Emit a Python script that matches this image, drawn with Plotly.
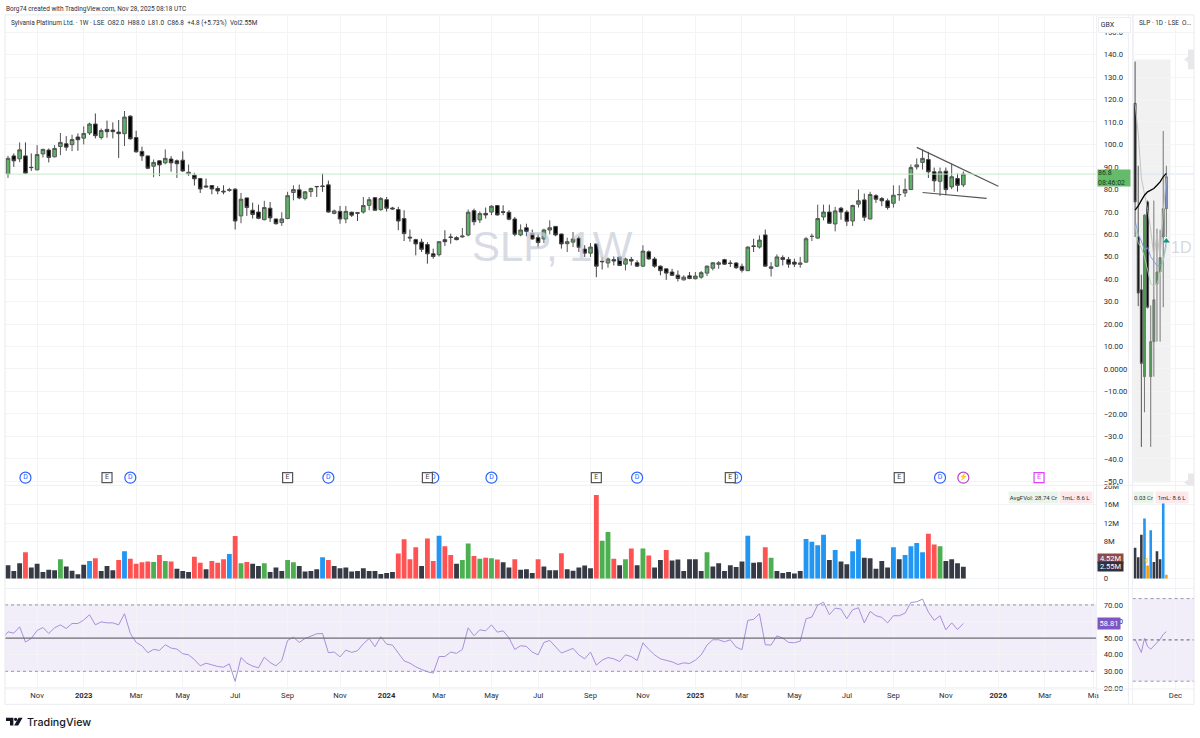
import pandas as pd
import plotly.graph_objects as go

W, H = 1200, 738

# ---------- weekly data ----------
opens = [86.9,94.9,93.6,94.9,89.8,88.7,95.8,97.5,94.5,99.1,
100.3,99.9,103.3,102.8,105.1,109.1,103.1,106.7,106.4,105.5,
104.8,112.6,103.1,96.9,94.9,90.3,92.7,91.8,93.5,92.7,
93.0,86.9,86.3,84.8,81.5,81.7,80.4,79.2,79.5,80.1,
68.2,76.2,70.7,69.9,66.5,71.6,66.8,65.2,67.0,78.6,
79.8,76.0,79.0,81.3,81.5,82.0,69.3,70.2,66.8,69.8,
69.6,69.9,72.9,76.3,71.0,75.4,71.7,71.0,67.0,58.7,
57.6,56.5,55.4,51.3,50.9,57.6,58.8,58.5,58.8,59.7,
70.5,66.4,69.3,69.9,72.8,70.0,69.8,66.8,59.7,62.9,
60.4,58.5,57.9,61.9,63.5,60.1,55.8,56.5,58.2,53.4,
51.6,55.7,48.0,47.2,48.7,49.9,46.7,48.8,47.3,45.8,
52.2,49.0,45.8,44.6,43.2,41.8,39.7,41.5,40.2,40.9,
42.7,44.9,46.6,48.7,47.2,47.2,45.7,43.8,54.8,54.3,
59.7,44.8,45.8,49.6,48.8,47.6,46.6,47.6,59.0,58.3,
67.7,69.9,64.6,71.6,69.9,65.9,73.4,75.3,66.8,77.2,
75.9,74.9,73.8,77.6,78.4,79.9,90.0,92.0,93.3,87.8,
83.6,88.1,81.1,84.8,82.0]
highs = [94.9,96.0,100.9,100.9,96.0,99.7,98.1,98.2,99.7,105.1,
103.7,104.3,104.9,108.0,109.7,113.8,107.1,110.6,109.8,110.9,
114.9,113.0,106.1,99.0,94.9,93.3,93.0,97.8,94.8,93.3,
96.9,91.1,87.4,85.1,84.8,81.7,81.4,81.8,80.7,80.5,
78.4,76.2,74.1,73.2,74.9,74.4,66.9,69.8,78.9,81.8,
82.1,79.3,80.8,81.5,87.1,83.9,71.0,72.6,72.6,70.1,
69.6,76.6,76.6,76.6,76.6,76.6,72.2,72.2,70.7,62.1,
58.0,58.0,56.5,53.6,56.7,61.8,60.3,59.1,62.8,71.0,
71.4,70.2,71.9,72.9,72.9,72.9,70.7,67.7,64.4,64.7,
62.1,60.3,62.5,66.2,63.5,60.3,58.5,61.0,59.1,55.1,
56.1,55.8,49.9,49.6,50.1,50.1,49.6,49.9,48.4,55.1,
52.8,49.9,46.1,44.6,44.6,43.9,41.7,43.2,43.2,43.6,
46.1,47.6,48.0,49.1,48.4,47.6,46.9,54.6,58.0,59.5,
62.1,47.6,51.0,50.6,49.9,49.1,49.9,58.8,60.3,73.2,
73.2,73.2,72.2,72.2,70.7,73.2,79.9,78.1,78.9,77.8,
76.6,75.9,81.8,81.8,84.8,91.1,93.8,97.8,96.7,89.7,
89.7,89.7,91.5,87.1,88.0]
lows = [85.1,90.0,92.1,87.0,88.2,88.5,94.2,92.0,94.2,95.2,
97.2,97.0,97.2,100.0,104.2,102.7,102.2,103.0,102.7,94.0,
99.3,102.2,96.4,92.7,89.0,85.4,85.9,91.2,87.9,85.1,
87.8,86.0,81.7,78.4,80.8,77.8,77.8,77.8,78.9,62.1,
64.9,68.2,67.0,66.7,66.2,65.5,64.3,63.7,66.7,75.1,
75.6,75.1,76.6,76.6,78.9,69.6,68.9,64.7,64.9,67.7,
65.9,69.2,70.7,70.4,70.4,70.1,71.0,61.8,57.0,56.7,
50.6,52.1,46.9,49.1,50.1,54.8,55.8,57.3,58.5,59.1,
64.0,65.0,67.0,68.5,68.3,68.5,66.2,59.1,59.1,59.1,
57.6,53.9,56.1,60.0,59.1,53.6,52.1,54.3,52.1,49.9,
49.9,40.9,44.3,45.1,46.1,45.8,43.9,46.1,45.4,45.4,
48.7,45.1,41.7,39.7,41.4,39.0,39.4,40.0,39.9,40.2,
41.4,43.9,44.6,46.4,45.4,44.6,43.0,43.6,52.1,53.6,
45.7,41.2,45.4,46.1,45.1,45.4,45.1,47.3,57.0,58.0,
66.2,64.7,61.3,66.5,63.7,63.7,71.9,65.9,66.7,74.0,
72.5,71.0,71.9,74.9,76.6,79.8,88.8,88.8,85.1,78.9,
77.1,77.4,80.1,79.0,81.0]
closes = [93.8,92.7,97.6,87.2,89.7,95.5,97.8,94.2,98.2,100.9,
98.8,102.2,102.1,104.9,109.1,103.9,106.2,105.7,105.7,104.8,
112.2,102.5,96.7,94.9,89.4,92.0,90.9,93.8,91.8,91.4,
88.2,87.6,84.7,80.2,81.1,80.2,79.3,78.9,79.9,65.9,
75.6,71.9,68.8,67.1,71.9,67.3,64.7,66.8,77.2,79.9,
76.2,78.9,80.4,81.2,81.3,69.9,70.4,66.8,70.2,68.5,
69.4,72.8,75.4,70.7,75.9,71.6,71.3,65.9,60.3,58.4,
55.7,53.3,51.3,50.1,56.7,56.7,58.6,57.6,59.2,69.8,
65.6,69.2,68.6,72.5,68.6,69.8,66.7,60.0,61.9,61.3,
57.9,56.3,61.9,62.9,59.7,55.7,56.7,57.9,54.2,51.6,
54.3,45.8,47.8,49.0,48.1,46.1,49.0,48.1,45.8,52.5,
49.0,45.8,43.8,42.7,41.7,40.3,40.9,40.3,41.4,42.9,
45.8,47.3,47.3,46.7,47.0,45.1,44.0,54.3,54.6,57.4,
45.8,45.5,49.9,48.8,46.7,46.7,47.2,58.0,59.1,67.0,
69.9,64.9,70.4,69.9,65.8,72.8,74.9,67.6,77.7,75.6,
74.9,71.9,77.4,77.7,79.9,89.7,90.9,93.8,87.8,83.8,
87.8,79.9,85.6,81.8,86.8]
volumes = [2.9,1.6,3.3,5.7,2.4,3.2,1.4,1.9,1.8,4.2,
2.6,1.7,0.9,3.0,3.8,4.4,1.6,2.7,1.8,4.0,
5.9,4.3,3.2,3.5,3.7,3.6,5.1,3.8,3.7,2.1,
1.6,1.4,4.7,3.4,2.0,3.8,3.4,4.2,5.3,9.2,
3.3,3.6,3.2,2.7,3.3,1.4,2.4,1.6,4.0,3.5,
2.7,1.5,1.6,2.0,4.6,4.0,2.7,2.2,2.4,1.5,
1.6,2.2,1.6,1.6,1.0,1.2,1.4,5.4,8.5,4.2,
6.8,2.7,8.7,3.8,9.3,7.0,5.1,3.2,4.0,7.6,
4.9,4.3,4.5,4.4,4.1,3.5,2.4,4.2,1.9,2.0,
1.2,4.2,2.6,1.8,1.8,5.5,2.0,1.7,2.4,2.8,
2.2,18.1,8.2,10.1,4.3,2.9,4.2,6.5,2.9,6.5,
5.0,2.4,4.0,6.2,3.9,4.1,1.6,4.2,4.2,1.6,
5.7,2.6,3.3,1.6,2.9,2.5,3.7,9.3,3.4,3.5,
6.8,4.5,1.6,1.2,1.4,1.1,1.6,8.6,8.0,7.2,
9.5,4.0,6.2,3.7,3.1,5.9,8.5,4.5,4.4,2.1,
3.8,2.4,6.8,4.2,5.1,7.0,7.7,5.7,9.7,7.4,
7.0,3.8,4.2,3.3,2.55]
volume_kind = list("kkkrkkkkkg" "kkkkbrkkkr" "brrrrgrgrk" "kkrrkrrrbr"
                   "grkkgkkkgg" "kkkkbrkkkk" "kkkkkkkrrr" "rkrrbrrkgg"
                   "rgrgrkkrkk" "krkkkrkkkk" "krggrkgrkg" "rkkrkkkkkk"
                   "gkkkkkkbkk" "rgkkkkkbbb" "bkbkkbbkkk" "kkbkbbbbrr"
                   "gkkkk")
rsi_values = [49.5,53.8,53.0,56.8,47.6,49.8,54.6,56.4,52.8,56.2,58.0,
55.8,58.8,58.8,60.9,64.1,58.0,59.8,59.2,59.2,58.0,
64.7,52.8,47.4,45.4,41.2,43.2,42.6,46.0,44.0,43.4,
40.6,39.9,37.1,33.3,34.9,33.9,32.9,32.5,34.5,23.9,
38.3,34.9,33.1,32.1,38.5,35.3,33.3,36.5,48.6,50.6,
47.4,49.8,51.4,52.6,52.8,41.2,41.6,38.7,42.8,41.4,
42.4,46.6,49.8,44.8,50.8,46.4,45.8,41.0,36.3,34.9,
32.7,31.1,29.7,28.9,38.9,38.9,41.6,40.8,43.2,56.2,
51.4,55.0,54.4,58.0,53.6,54.4,50.2,43.2,45.4,45.0,
41.6,39.9,47.4,48.6,45.0,41.0,42.4,43.8,39.9,37.5,
41.6,33.7,36.7,38.3,37.5,35.9,39.9,38.9,36.5,47.2,
43.2,39.9,37.5,36.7,35.7,34.1,35.1,34.7,36.7,39.9,
45.8,49.0,49.0,47.8,49.0,44.6,43.0,60.7,61.3,64.7,
46.0,45.8,51.4,50.0,47.4,47.2,48.2,61.7,62.7,69.9,
71.7,64.1,68.1,67.5,61.7,67.1,68.3,59.2,66.1,63.5,
62.5,59.2,63.5,63.5,65.1,71.5,71.9,73.5,65.7,60.7,
63.5,55.0,59.2,55.2,58.81]
last_price = 86.8
wedge_top_weeks = [156, 170]
wedge_top_price = [98.7, 81.4]
wedge_bottom_weeks = [157, 168]
wedge_bottom_price = [78.6, 76.0]
dividend_weeks = [3, 21, 55, 73, 83, 108, 125, 160]
earnings_weeks = [17, 48, 72, 101, 124, 153]
price_ticks = [150,140,130,120,110,100,90,80,70,60,50,40,30,20,10,0,-10,-20,-30,-40,-50]
price_labels = ["150.0","140.0","130.0","120.0","110.0","100.0","90.0","80.0","70.0","60.0","50.0",
                "40.0","30.0","20.00","10.00","0.0000","\u221210.00","\u221220.00","\u221230.0","\u221240.0","\u221250.0"]
vol_ticks = [0, 8, 12, 16, 20]
vol_labels = ["0", "8M", "12M", "16M", "20M"]
rsi_ticks = [20, 30, 40, 50, 60, 70]
rsi_labels = ["20.00", "30.00", "40.00", "50.00", "60.00", "70.00"]
month_weeks = [5, 13, 22, 30, 39, 48, 57, 65, 74, 83, 91, 100, 109, 118, 126, 135, 144, 152, 161, 170, 178, 186.3]
month_labels = ["Nov", "<b>2023</b>", "Mar", "May", "Jul", "Sep", "Nov", "<b>2024</b>", "Mar", "May", "Jul", "Sep",
                "Nov", "<b>2025</b>", "Mar", "May", "Jul", "Sep", "Nov", "<b>2026</b>", "Mar", "Ma"]

# ---------- daily inset data ----------
d_open = [118.3, 58.8, 35.3, -3.4, 74.4, -3.4, 12.2, 37.9, 43.2, 58.8]
d_high = [136.9, 90.5, 42.0, 69.0, 75.0, 28.3, 75.0, 62.5, 62.0, 106.0]
d_low = [58.8, 28.0, -34.7, -19.3, 27.0, -34.7, -3.4, 12.2, 12.2, 27.5]
d_close = [74.4, 33.8, 2.5, 68.5, 27.5, 12.2, 30.8, 43.2, 49.6, 71.4]
d_last = dict(o=71.4, h=90.5, l=58.8, c=85.6)
d_volume = [6.7, 4.6, 9.5, 13.0, 2.8, 10.5, 3.6, 5.9, 4.2, 18.1, 0.8]
d_vol_kind = list("kkkbobkkkbo")
d_rsi = [50.3, 47.1, 43.9, 50.8, 46.8, 45.5, 47.0, 48.4, 50.3, 52.7, 54.0]
d_ma_black = [70.7, 72.6, 75.1, 77.4, 78.9, 79.6, 80.4, 81.8, 83.3, 85.6, 87.1]
d_ma_gray = [118, 105, 85, 78, 71, 62, 50, 60, 50, 70, 85]
d_ma_blue = [66, 60, 57, 53, 54, 50, 48, 46, 46, 48, 57]
d_ma_green = [64, 56, 54, 50, 44, 38, 37, 38, 42, 48, 55]

# ---------- helpers ----------
C_VOL = {"k": "#363a45", "r": "#ff5252", "g": "#4caf50", "b": "#2196f3", "o": "#ff9800"}
PX_WEEK = 5.835
PX0 = 8.0
start = pd.Timestamp("2022-10-03")
def week(i):
    return start + pd.Timedelta(days=7 * i)
def xp(px):
    return px / W
def yp(py):
    return 1 - py / H
dates = [week(i) for i in range(len(closes))]
rsi_dates = [week(i - 1) for i in range(len(rsi_values))]
d_idx = list(range(len(d_rsi)))
PX_DAY = 3.13
DAY0 = 1137
L, R = 5, 1098.5       # left panes
IL, IR = 1134.5, 1196  # inset panes
T, A, B, E = 12, 487, 591, 692.5  # pane rows
ZERO_Y, PX_PER_PRICE = 369.5, 2.267
VOL0_Y, PX_PER_M = 581, 4.65
RSI50_Y, PX_PER_RSI = 641.2, 1.675
IRSI50_Y, PX_PER_IRSI = 643, 2.085
GRID = "#f3f4f6"
TXT = "#2a2e39"
FONT = "Roboto, Noto Sans, sans-serif"

fig = go.Figure()

fig.add_trace(go.Candlestick(x=dates, open=opens, high=highs, low=lows, close=closes, xaxis="x", yaxis="y",
    increasing=dict(line=dict(color="#555555", width=1), fillcolor="#5cb265"),
    decreasing=dict(line=dict(color="#444444", width=1), fillcolor="#000000"),
    whiskerwidth=0, showlegend=False, hoverinfo="skip"))
for xs, ys in ((wedge_top_weeks, wedge_top_price), (wedge_bottom_weeks, wedge_bottom_price)):
    fig.add_trace(go.Scatter(x=[week(i) for i in xs], y=ys, mode="lines", xaxis="x", yaxis="y",
                             line=dict(color="#555555", width=1.2), showlegend=False, hoverinfo="skip"))
EVENT_Y = -48.4
fig.add_trace(go.Scatter(x=[week(i) for i in dividend_weeks], y=[EVENT_Y] * len(dividend_weeks), mode="markers+text",
    text=["D"] * len(dividend_weeks), textposition="middle center", textfont=dict(size=7, color="#2962ff", family=FONT),
    marker=dict(symbol="circle", size=11, color="white", line=dict(color="#2962ff", width=1.2)),
    xaxis="x", yaxis="y", showlegend=False, cliponaxis=False, hoverinfo="skip"))
fig.add_trace(go.Scatter(x=[week(i) for i in earnings_weeks], y=[EVENT_Y] * len(earnings_weeks), mode="markers+text",
    text=["E"] * len(earnings_weeks), textposition="middle center", textfont=dict(size=7, color="#444444", family=FONT),
    marker=dict(symbol="square", size=10, color="white", line=dict(color="#555555", width=1.2)),
    xaxis="x", yaxis="y", showlegend=False, cliponaxis=False, hoverinfo="skip"))
fig.add_trace(go.Scatter(x=[week(164)], y=[EVENT_Y], mode="markers+text", text=["\u26a1"], textposition="middle center",
    textfont=dict(size=7, color="#b544c8", family=FONT),
    marker=dict(symbol="circle", size=11, color="white", line=dict(color="#b544c8", width=1.2)),
    xaxis="x", yaxis="y", showlegend=False, hoverinfo="skip"))
fig.add_trace(go.Scatter(x=[week(177)], y=[EVENT_Y], mode="markers+text", text=["E"], textposition="middle center",
    textfont=dict(size=7, color="#e040fb", family=FONT),
    marker=dict(symbol="square", size=10, color="white", line=dict(color="#e040fb", width=1.2)),
    xaxis="x", yaxis="y", showlegend=False, hoverinfo="skip"))

fig.add_trace(go.Bar(x=dates, y=volumes, marker=dict(color=[C_VOL[k] for k in volume_kind], line=dict(width=0)),
                     xaxis="x", yaxis="y2", showlegend=False, hoverinfo="skip"))
fig.add_trace(go.Scatter(x=rsi_dates, y=rsi_values, mode="lines", line=dict(color="#a491da", width=1),
                         xaxis="x", yaxis="y3", showlegend=False, hoverinfo="skip"))

for vals, col, wd in ((d_ma_gray, "#bdbdbd", 0.9), (d_ma_blue, "#7f9ae0", 0.9), (d_ma_green, "#a8d5aa", 0.9)):
    fig.add_trace(go.Scatter(x=d_idx, y=vals, mode="lines", line=dict(color=col, width=wd),
                             xaxis="x2", yaxis="y", showlegend=False, hoverinfo="skip"))
fig.add_trace(go.Candlestick(x=d_idx[:-1], open=d_open, high=d_high, low=d_low, close=d_close, xaxis="x2", yaxis="y",
    increasing=dict(line=dict(color="#777777", width=1), fillcolor="#4a9d4e"),
    decreasing=dict(line=dict(color="#555555", width=1), fillcolor="#000000"),
    whiskerwidth=0, showlegend=False, hoverinfo="skip"))
fig.add_trace(go.Candlestick(x=[d_idx[-1]], open=[d_last["o"]], high=[d_last["h"]], low=[d_last["l"]], close=[d_last["c"]],
    xaxis="x2", yaxis="y",
    increasing=dict(line=dict(color="#777777", width=1), fillcolor="#7b92d1"),
    whiskerwidth=0, showlegend=False, hoverinfo="skip"))
fig.add_trace(go.Scatter(x=d_idx, y=d_ma_black, mode="lines", line=dict(color="#000000", width=1.3),
                         xaxis="x2", yaxis="y", showlegend=False, hoverinfo="skip"))
fig.add_trace(go.Scatter(x=[d_idx[-1]], y=[57], mode="markers", marker=dict(symbol="triangle-up", size=6, color="#089981"),
                         xaxis="x2", yaxis="y", showlegend=False, hoverinfo="skip"))
fig.add_trace(go.Bar(x=d_idx, y=d_volume, marker=dict(color=[C_VOL[k] for k in d_vol_kind], line=dict(width=0)),
                     xaxis="x2", yaxis="y2", showlegend=False, hoverinfo="skip"))
fig.add_trace(go.Scatter(x=d_idx, y=d_rsi, mode="lines", line=dict(color="#a491da", width=1),
                         xaxis="x2", yaxis="y4", showlegend=False, hoverinfo="skip"))

def rect(x0, y0, x1, y1, fill, layer="below", line=None):
    return dict(type="rect", xref="paper", yref="paper", x0=xp(x0), x1=xp(x1), y0=yp(y0), y1=yp(y1),
                fillcolor=fill, layer=layer, line=dict(color=line or "rgba(0,0,0,0)", width=1))
def hline(px0, px1, py, color="#e9eaee", width=1, dash="solid", layer="above"):
    return dict(type="line", xref="paper", yref="paper", x0=xp(px0), x1=xp(px1), y0=yp(py), y1=yp(py),
                line=dict(color=color, width=width, dash=dash), layer=layer)
def vline(px, py0, py1, color="#e9eaee", width=1):
    return dict(type="line", xref="paper", yref="paper", x0=xp(px), x1=xp(px), y0=yp(py0), y1=yp(py1),
                line=dict(color=color, width=width), layer="above")
def poly(points, fill):
    path = "M " + " L ".join(f"{xp(a):.5f} {yp(b):.5f}" for a, b in points) + " Z"
    return dict(type="path", xref="paper", yref="paper", path=path, fillcolor=fill, line=dict(width=0), layer="above")

BOT = 708
FR = 1196
shapes = [
    rect(1136, 57, 1172.5, 484, "#f1f1f2"),
    rect(IL, T, 1136, 484, "#f0f3fa"),
    dict(type="line", xref="x domain", yref="y", x0=0, x1=1, y0=last_price, y1=last_price,
         line=dict(color="#c8e8ca", width=1), layer="above"),
    dict(type="line", xref="x2 domain", yref="y", x0=0, x1=1, y0=last_price, y1=last_price,
         line=dict(color="#dde3f3", width=1), layer="below"),
    dict(type="rect", xref="x domain", yref="y3", x0=0, x1=1, y0=30, y1=70, fillcolor="rgba(126,87,194,0.10)",
         line=dict(width=0), layer="below"),
    dict(type="line", xref="x domain", yref="y3", x0=0, x1=1, y0=70, y1=70, line=dict(color="#9a93a8", width=1, dash="3px,3px")),
    dict(type="line", xref="x domain", yref="y3", x0=0, x1=1, y0=30, y1=30, line=dict(color="#9a93a8", width=1, dash="3px,3px")),
    dict(type="line", xref="x domain", yref="y3", x0=0, x1=1, y0=50, y1=50, line=dict(color="#6d6a73", width=1.4)),
    dict(type="rect", xref="x2 domain", yref="y4", x0=0, x1=1, y0=30, y1=70, fillcolor="rgba(126,87,194,0.10)",
         line=dict(width=0), layer="below"),
    dict(type="line", xref="x2 domain", yref="y4", x0=0, x1=1, y0=70, y1=70, line=dict(color="#9a93a8", width=1, dash="3px,3px")),
    dict(type="line", xref="x2 domain", yref="y4", x0=0, x1=1, y0=30, y1=30, line=dict(color="#9a93a8", width=1, dash="3px,3px")),
    dict(type="line", xref="x2 domain", yref="y4", x0=0, x1=1, y0=50, y1=50, line=dict(color="#7a7680", width=1.3, dash="3px,3px")),
    hline(5, FR, T), hline(5, FR, BOT), vline(5, T, BOT), vline(FR, T, BOT),
    hline(5, FR, A, "#eeeff2"), hline(5, FR, B, "#eeeff2"), hline(5, FR, E, "#eeeff2"),
    vline(R, T, BOT, "#eeeff2"), vline(1130.5, T, BOT, "#eeeff2"), vline(IL, T, BOT, "#eeeff2"),
    poly([(FR, 47), (FR-6, 47), (FR-6, 54), (FR-10, 57), (FR-6, 60), (FR-6, 67), (FR, 67)], "#e8e8ea"),
    poly([(FR, 475), (FR-6, 475), (FR-6, 481), (FR-10, 484), (FR-6, 487), (FR, 487)], "#e8e8ea"),
    poly([(6, 721.5), (13.4, 721.5), (13.4, 729.5), (10, 729.5), (10, 724.8), (6, 724.8)], "#131722"),
    dict(type="circle", xref="paper", yref="paper", x0=xp(14), x1=xp(17.4), y0=yp(721.5), y1=yp(724.9),
         fillcolor="#131722", line=dict(width=0), layer="above"),
    poly([(18.6, 721.5), (22.6, 721.5), (18.2, 729.5), (14.2, 729.5)], "#131722"),
]

def note(px, py, text, size=8, color=TXT, anchor="left", bg=None, width=None, height=None, family=FONT, border=None, align=None, weight=None):
    a = dict(xref="paper", yref="paper", x=xp(px), y=yp(py), text=text, showarrow=False, xanchor=anchor, yanchor="middle",
             font=dict(size=size, color=color, family=family), borderpad=0)
    if weight: a["font"]["weight"] = weight
    if bg: a["bgcolor"] = bg
    if width: a["width"] = width
    if height: a["height"] = height
    if border: a["bordercolor"] = border; a["borderwidth"] = 1
    if align: a["align"] = align
    return a

annotations = [
    note(5, 6.5, "Borg74 created with TradingView.com, Nov 28, 2025 08:18 UTC", 6.45),
    note(10, 20.5, "Sylvania Platinum Ltd. \u00b7 1W \u00b7 LSE &nbsp;O82.0 &nbsp;H88.0 &nbsp;L81.0 &nbsp;C86.8 &nbsp;+4.8 (+5.73%) &nbsp;Vol2.55M", 6.45),
    note(1139.5, 20.5, "SLP \u00b7 1D \u00b7 LSE &nbsp;O...", 6.45),
    note(553, 246, "SLP, 1W", 42, "rgba(203,206,218,0.72)", "center", family="Liberation Sans"),
    note(1183, 247, "1D", 16, "rgba(203,206,218,0.8)", "center", family="Liberation Sans"),
    note(1099.5, 22, "&nbsp;GBX", 7, TXT, "left", bg="#ffffff", width=31, height=14, border="#eceef2", align="left"),
    note(1099, 176.5, "86.8<br>08:46:02", 7, "#143d18", "left", bg="#66bb6a", width=32, height=16, align="left"),
    note(1099, 560.5, "4.52M", 7.5, "#ffffff", "left", bg="#8c4b4b", width=25, height=9, align="center"),
    note(1099, 569, "2.55M", 7.5, "#ffffff", "left", bg="#2e3240", width=25, height=9, align="center"),
    note(1099, 626, "58.81", 7.5, "#ffffff", "left", bg="#7e57c2", width=22, height=11, align="center"),
    note(1010, 499, "AvgFVol: 28.74 Cr", 6, TXT, "left", bg="#e9f5ea", width=49, height=11, align="center"),
    note(1060.5, 499, "1mL: 8.6 L", 6, TXT, "left", bg="#fde8ec", width=32, height=11, align="center"),
    note(1135, 499, "0.03 Cr", 6, TXT, "left", bg="#e9f5ea", width=19, height=11, align="center"),
    note(1156.5, 499, "1mL: 8.6 L", 6, TXT, "left", bg="#fde8ec", width=32, height=11, align="center"),
    note(1148, 563.5, "0", 7, "#ff9800", "center"),
    note(26, 726, "TradingView", 10.7, "#131722", family="Inter", weight=500),
]

days_per_px = 7 / PX_WEEK
x_range = [start + pd.Timedelta(days=(L - PX0) * days_per_px), start + pd.Timedelta(days=(R - PX0) * days_per_px)]
y_main_range = [(ZERO_Y - A) / PX_PER_PRICE, (ZERO_Y - T) / PX_PER_PRICE]
y_vol_range = [(VOL0_Y - B) / PX_PER_M, (VOL0_Y - A) / PX_PER_M]
y_rsi_range = [50 + (RSI50_Y - E) / PX_PER_RSI, 50 + (RSI50_Y - B) / PX_PER_RSI]
y_irsi_range = [50 + (IRSI50_Y - E) / PX_PER_IRSI, 50 + (IRSI50_Y - B) / PX_PER_IRSI]
inset_range = [(IL - DAY0) / PX_DAY, (IR - DAY0) / PX_DAY]

tick_font = dict(size=7.7, color=TXT, family=FONT)
y_common = dict(side="right", showgrid=True, gridcolor=GRID, gridwidth=1, zeroline=False, showline=False,
                ticks="outside", ticklen=4.5, tickcolor="rgba(0,0,0,0)", tickfont=tick_font, tickmode="array")

fig.update_layout(
    width=W, height=H, margin=dict(l=0, r=0, t=0, b=0), paper_bgcolor="#ffffff", plot_bgcolor="rgba(0,0,0,0)",
    showlegend=False, bargap=0.17, boxgap=0.12, shapes=shapes, annotations=annotations, hovermode=False,
    xaxis=dict(domain=[xp(L), xp(R)], range=x_range, type="date", anchor="y3", rangeslider=dict(visible=False),
               tickmode="array", tickvals=[week(i) for i in month_weeks], ticktext=month_labels,
               showgrid=True, gridcolor=GRID, zeroline=False, showline=False, ticks="",
               tickfont=tick_font, tickangle=0),
    xaxis2=dict(domain=[xp(IL), xp(IR)], range=inset_range, type="linear", anchor="y4", rangeslider=dict(visible=False),
                tickmode="array", tickvals=[12.9], ticktext=["Dec"],
                showgrid=True, gridcolor=GRID, zeroline=False, showline=False, ticks="",
                tickfont=tick_font),
    yaxis=dict(domain=[yp(A), yp(T)], range=y_main_range, anchor="x", tickvals=price_ticks, ticktext=price_labels, **y_common),
    yaxis2=dict(domain=[yp(B), yp(A)], range=y_vol_range, anchor="x", tickvals=vol_ticks, ticktext=vol_labels, **y_common),
    yaxis3=dict(domain=[yp(E), yp(B)], range=y_rsi_range, anchor="x", tickvals=rsi_ticks, ticktext=rsi_labels, **y_common),
    yaxis4=dict(domain=[yp(E), yp(B)], range=y_irsi_range, anchor="x2", side="right", showgrid=False, zeroline=False,
                showticklabels=False, ticks=""),
)

fig.write_html("out.html", config=dict(displayModeBar=False),
               post_script="document.documentElement.style.overflow='hidden';document.body.style.margin='0';document.body.style.overflow='hidden';")
